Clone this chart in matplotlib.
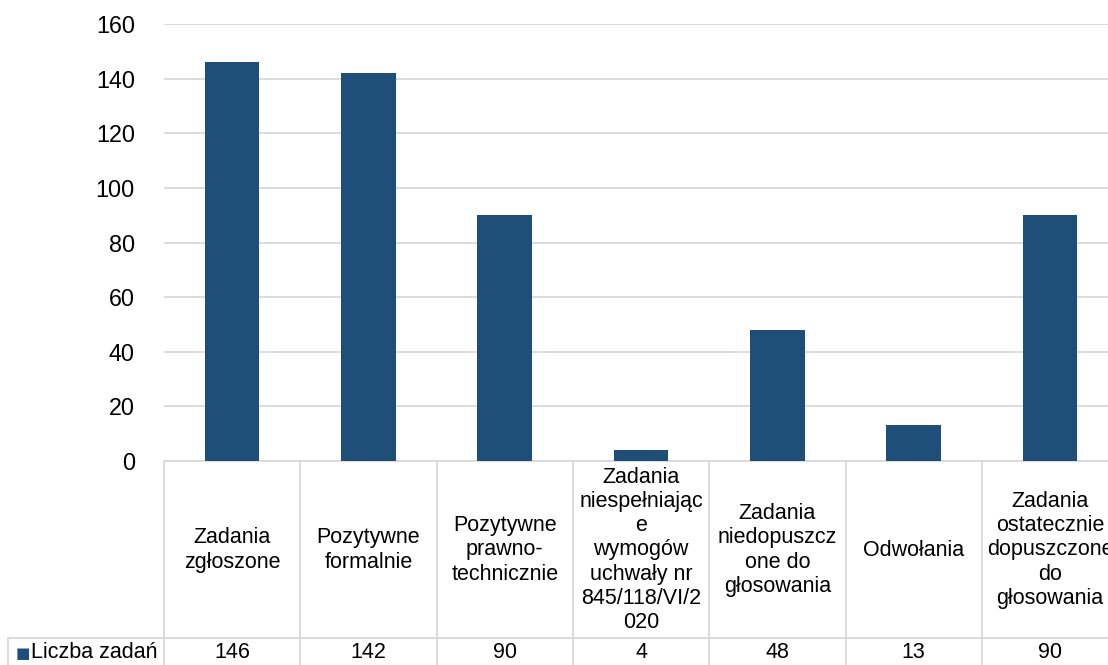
import numpy as np
import matplotlib.pyplot as plt

plt.rcParams['font.family'] = ['Liberation Sans', 'DejaVu Sans']
plt.rcParams['font.size'] = 15.5

# dane
kategorie = [
    'Zadania\nzgłoszone',
    'Pozytywne\nformalnie',
    'Pozytywne\nprawno-\ntechnicznie',
    'Zadania\nniespełniając\ne\nwymogów\nuchwały nr\n845/118/VI/2\n020',
    'Zadania\nniedopuszcz\none do\ngłosowania',
    'Odwołania',
    'Zadania\nostatecznie\ndopuszczone\ndo\ngłosowania',
]
liczba_zadan = [146, 142, 90, 4, 48, 13, 90]
seria = 'Liczba zadań'
yticks = [0, 20, 40, 60, 80, 100, 120, 140, 160]

kolor = '#1F4E79'
szary = '#D9D9D9'

W, H = 1108, 665
fig = plt.figure(figsize=(W / 100, H / 100), dpi=100)

# wykres slupkowy
x0, cell = 164, 136.3
n = len(kategorie)
ax = fig.add_axes([x0 / W, (H - 461) / H, n * cell / W, (461 - 24) / H])
x = np.arange(n)
ax.bar(x, liczba_zadan, width=0.4, color=kolor, zorder=3)
ax.set_xlim(-0.5, n - 0.5)
ax.set_ylim(0, 160)
ax.set_yticks(yticks)
ax.set_xticks([])
ax.yaxis.grid(True, color=szary, linewidth=1.3, zorder=0)
for s in ['top', 'right', 'left']:
    ax.spines[s].set_visible(False)
ax.spines['bottom'].set_color(szary)
ax.spines['bottom'].set_linewidth(1.3)
ax.tick_params(axis='y', length=0, pad=21, labelsize=16.8)

# tabela danych
tab = fig.add_axes([x0 / W, 0, n * cell / W, 204 / H], sharex=ax)
tab.set_ylim(665, 461)
tab.axis('off')
x_lewy = -0.5 - (x0 - 8) / cell
y_wiersz = 638
lw = 1.3
tab.plot([x_lewy, n - 0.5], [y_wiersz, y_wiersz], color=szary, lw=lw, clip_on=False)
tab.plot([x_lewy, x_lewy], [y_wiersz, 670], color=szary, lw=lw, clip_on=False)
for b in np.arange(n + 1) - 0.5:
    tab.plot([b, b], [461, 670], color=szary, lw=lw, clip_on=False)
for i, (k, v) in enumerate(zip(kategorie, liczba_zadan)):
    tab.text(i, 550, k, ha='center', va='center', linespacing=1.2)
    tab.text(i, 653, str(v), ha='center', va='center')
tab.text(x_lewy + 0.055, 653, '■', color=kolor, ha='left', va='center', fontsize=11,
         family=['DejaVu Sans'], clip_on=False)
tab.text(x_lewy + 0.17, 653, seria, ha='left', va='center', clip_on=False)

fig.savefig('out.png', dpi=100)
